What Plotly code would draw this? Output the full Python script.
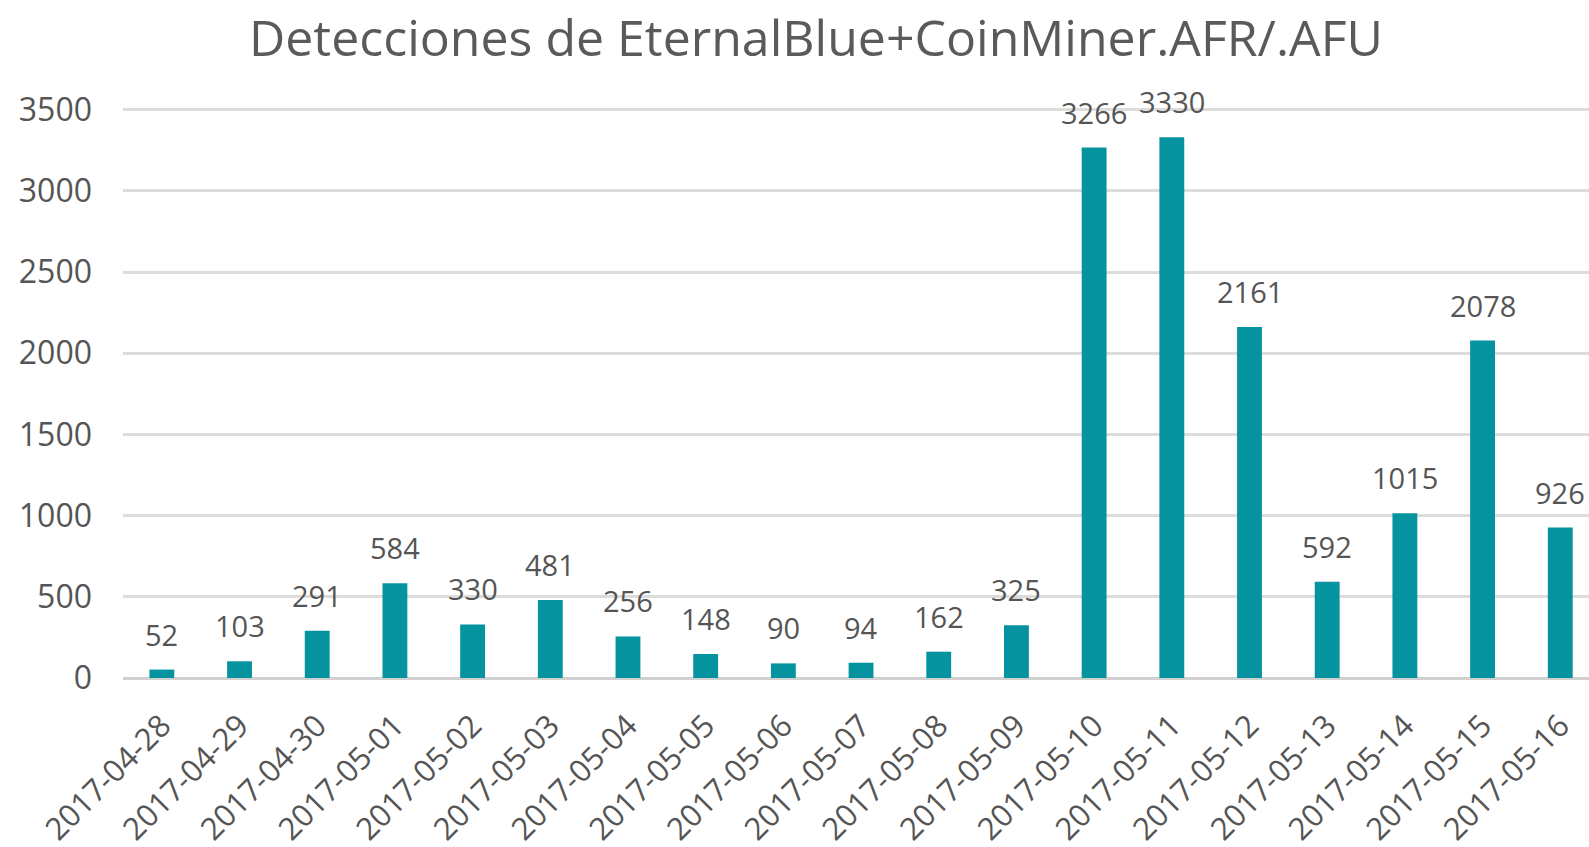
import plotly.graph_objects as go

categories = ["2017-04-28", "2017-04-29", "2017-04-30", "2017-05-01", "2017-05-02",
              "2017-05-03", "2017-05-04", "2017-05-05", "2017-05-06", "2017-05-07",
              "2017-05-08", "2017-05-09", "2017-05-10", "2017-05-11", "2017-05-12",
              "2017-05-13", "2017-05-14", "2017-05-15", "2017-05-16"]
detections = [52, 103, 291, 584, 330, 481, 256, 148, 90, 94, 162, 325,
              3266, 3330, 2161, 592, 1015, 2078, 926]
y_ticks = [0, 500, 1000, 1500, 2000, 2500, 3000, 3500]

title_text = "Detecciones de EternalBlue+CoinMiner.AFR/.AFU"
bar_color = "#05949f"
text_color = "#555555"
font_family = "Open Sans, Noto Sans, sans-serif"

fig = go.Figure()
fig.add_trace(go.Bar(
    x=categories, y=detections,
    marker=dict(color=bar_color, line=dict(width=0)),
    width=0.32,
    hoverinfo="x+y",
))

for c, v in zip(categories, detections):
    fig.add_annotation(x=c, y=v, text=str(v), showarrow=False,
                       yanchor="bottom", yshift=14,
                       font=dict(family=font_family, size=29, color=text_color))

fig.update_layout(
    width=1589, height=847,
    paper_bgcolor="white", plot_bgcolor="white",
    margin=dict(l=123, r=0, t=108, b=169, pad=0),
    title=dict(text=title_text, x=0.5135, xanchor="center", xref="container",
               y=0.955, yanchor="middle",
               font=dict(family=font_family, size=50, color="#5a5a5a")),
    showlegend=False,
    font=dict(family=font_family, color=text_color),
)
fig.update_xaxes(
    type="category", range=[-0.5, 18.37],
    tickangle=-45, tickfont=dict(size=31, color=text_color, family=font_family),
    ticks="outside", ticklen=16, tickcolor="rgba(0,0,0,0)",
    showgrid=False, showline=False, zeroline=False,
)
fig.update_yaxes(
    range=[0, 3510], tickvals=y_ticks,
    tickfont=dict(size=32, color=text_color, family=font_family),
    showgrid=True, gridcolor="#dcdcdc", gridwidth=3,
    zeroline=True, zerolinecolor="#d0d0d0", zerolinewidth=3,
    showline=False, ticklabelstandoff=30,
)

fig.write_html("out.html", config={"displayModeBar": False},
               post_script="document.body.style.margin='0';")
